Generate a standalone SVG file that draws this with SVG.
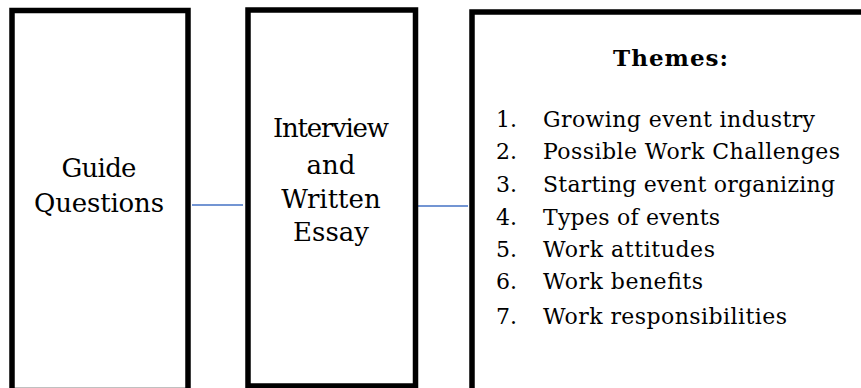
<svg xmlns="http://www.w3.org/2000/svg" width="861" height="388" viewBox="0 0 861 388">
<style>
.box{fill:#fff;stroke:#000;stroke-width:5.5}
.lbl{font-family:"DejaVu Serif","Liberation Serif",serif;font-size:26px;fill:#000;text-anchor:middle}
.item{font-family:"DejaVu Serif","Liberation Serif",serif;font-size:22px;fill:#000}
.ttl{font-family:"DejaVu Serif","Liberation Serif",serif;font-size:23px;font-weight:bold;fill:#000;text-anchor:middle}
.conn{stroke:#4472C4;stroke-width:1.6;fill:none}
</style>
<rect width="861" height="388" fill="#fff"/>
<g id="connectors">
<line class="conn" x1="192" y1="205" x2="243" y2="205"/>
<line class="conn" x1="418" y1="206" x2="468" y2="206"/>
</g>
<g id="guide-questions">
<rect class="box" x="12" y="10.5" width="176" height="380"/>
<text class="lbl" x="99" y="177" textLength="75">Guide</text>
<text class="lbl" x="99" y="212" textLength="130">Questions</text>
</g>
<g id="interview-essay">
<rect class="box" x="248" y="10" width="167.5" height="376"/>
<text class="lbl" x="331" y="137" textLength="116">Interview</text>
<text class="lbl" x="331" y="174">and</text>
<text class="lbl" x="331" y="208">Written</text>
<text class="lbl" x="331" y="241">Essay</text>
</g>
<g id="themes">
<rect class="box" x="472" y="12" width="400" height="390"/>
<text class="ttl" x="670.5" y="66" textLength="115">Themes:</text>
<text class="item" x="496" y="127">1.</text>
<text class="item" x="543" y="127" textLength="272">Growing event industry</text>
<text class="item" x="496" y="159">2.</text>
<text class="item" x="543" y="159" textLength="297">Possible Work Challenges</text>
<text class="item" x="496" y="192">3.</text>
<text class="item" x="543" y="192" textLength="292">Starting event organizing</text>
<text class="item" x="496" y="225">4.</text>
<text class="item" x="543" y="225" textLength="177">Types of events</text>
<text class="item" x="496" y="257">5.</text>
<text class="item" x="543" y="257" textLength="172">Work attitudes</text>
<text class="item" x="496" y="289">6.</text>
<text class="item" x="543" y="289" textLength="160">Work benefits</text>
<text class="item" x="496" y="324">7.</text>
<text class="item" x="543" y="324" textLength="244">Work responsibilities</text>
</g>
</svg>
